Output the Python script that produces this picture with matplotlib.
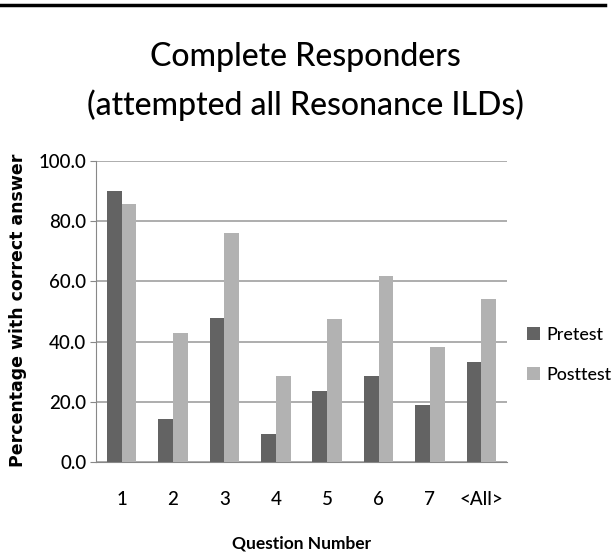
import numpy as np
import matplotlib.pyplot as plt

# データ
questions = ['1', '2', '3', '4', '5', '6', '7', '<All>']
pretest = [90.1, 14.3, 47.7, 9.2, 23.6, 28.5, 18.8, 33.1]
posttest = [85.6, 42.8, 76.0, 28.6, 47.6, 61.8, 38.1, 54.3]

fnt = ['Lato', 'DejaVu Sans']

fig = plt.figure(figsize=(6.11, 5.53), dpi=100)
ax = fig.add_axes([96 / 611, 1 - 462 / 553, 411 / 611, 301 / 553])

x = np.arange(len(questions))
w = 0.286
ax.bar(x - w / 2, pretest, w, color='#636363', label='Pretest', zorder=3)
ax.bar(x + w / 2, posttest, w, color='#b2b2b2', label='Posttest', zorder=3)

ax.set_xlim(-0.5, len(questions) - 0.5)
ax.set_ylim(0, 100)
ax.set_yticks(np.arange(0, 101, 20))
ax.set_yticklabels(['{:.1f}'.format(v) for v in np.arange(0, 101, 20)],
                   family=fnt, fontsize=13.5, fontweight='medium')
ax.set_xticks(x)
ax.set_xticklabels(questions, family=fnt, fontsize=13.5, fontweight='medium')
ax.tick_params(axis='x', length=0, pad=21)
ax.tick_params(axis='y', length=4, color='#888888', pad=3)
ax.yaxis.grid(True, color='#a0a0a0', linewidth=1.2, zorder=0)

for s in ['top', 'right']:
    ax.spines[s].set_visible(False)
ax.spines['left'].set_color('#888888')
ax.spines['bottom'].set_color('#888888')

ax.set_xlabel('Question Number', family=fnt, fontsize=12.5,
              fontweight='bold', labelpad=20)
fig.text(18 / 611, 1 - 310 / 553, 'Percentage with correct answer',
         rotation=90, ha='center', va='center', fontsize=12.5,
         fontweight='bold', family='DejaVu Sans')

fig.text(0.5, 1 - 57 / 553, 'Complete Responders', ha='center',
         va='center', fontsize=23, family=fnt, fontweight='medium')
fig.text(0.5, 1 - 105 / 553, '(attempted all Resonance ILDs)', ha='center',
         va='center', fontsize=23, family=fnt, fontweight='medium')

# 上の黒線
fig.add_artist(plt.Line2D([0, 605 / 611], [1 - 5 / 553, 1 - 5 / 553],
                          color='black', linewidth=2.5))

ax.legend(loc='center left', bbox_to_anchor=(1.01, 0.355), frameon=False,
          prop={'family': fnt, 'size': 12.8, 'weight': 'medium'},
          handlelength=0.75, handleheight=0.75, handletextpad=0.35,
          labelspacing=1.35)

fig.savefig('out.png', dpi=100)
